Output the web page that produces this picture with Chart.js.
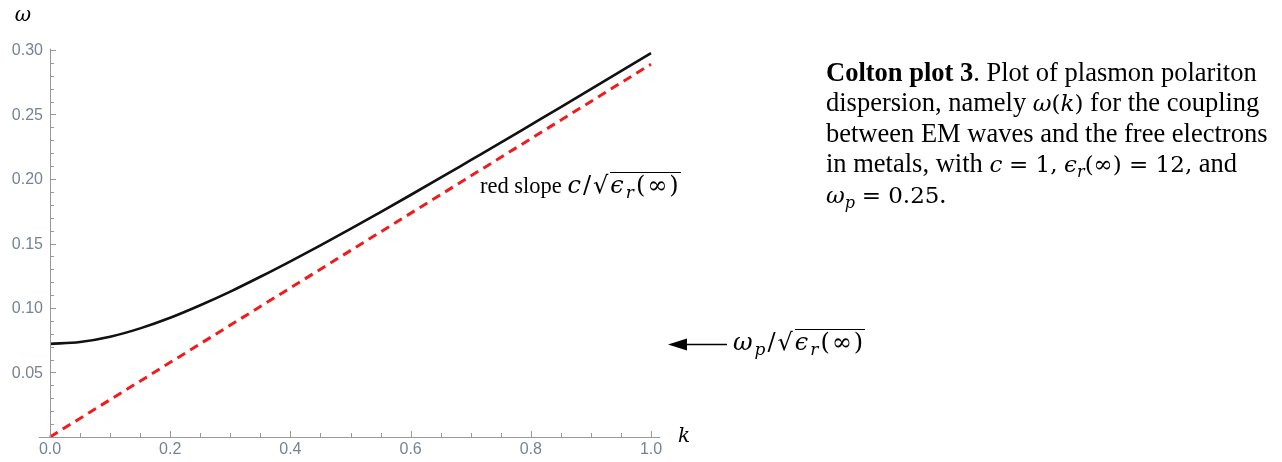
<!DOCTYPE html>
<html>
<head>
<meta charset="utf-8">
<script src="https://cdn.jsdelivr.net/npm/chart.js@4/dist/chart.umd.min.js"></script>
<style>
  html, body { margin: 0; padding: 0; background: #fff; }
  #wrap { position: relative; width: 1282px; height: 462px; }
  #myChart { position: absolute; left: 0; top: 0; }
  .txt { position: absolute; font-family: "Liberation Serif", "Times New Roman", serif; color: #000; white-space: nowrap; }
  .m { font-family: "DejaVu Serif", "Liberation Serif", serif; font-style: italic; }
  .n { font-family: "DejaVu Serif", "Liberation Serif", serif; }
  .ov { border-top: 1.5px solid #000; padding-top: 0px; }
  .wide { letter-spacing: 2px; }
  sub { vertical-align: -0.3em; line-height: 0; }
  #caption { left: 826px; top: 57px; font-size: 26.5px; line-height: 30px; }
</style>
</head>
<body>
<div id="wrap">
  <canvas id="myChart" width="1282" height="462"></canvas>
  <div class="txt" style="left:480px; top:171px; font-size:22.5px;">red slope <span class="wide"><span class="m" style="font-size:24px">c</span><span class="n" style="font-size:24px">/√</span><span class="ov"><span class="m" style="font-size:24px">ϵ<sub style="font-size:17px">r</sub></span><span class="n" style="font-size:24px">(∞)</span></span></span></div>
  <div class="txt wide" style="left:733px; top:328px; font-size:22px;"><span class="m" style="font-size:24px">ω<sub style="font-size:17px">p</sub></span><span class="n" style="font-size:24px">/√</span><span class="ov"><span class="m" style="font-size:24px">ϵ<sub style="font-size:17px">r</sub></span><span class="n" style="font-size:24px">(∞)</span></span></div>
  <div class="txt" id="caption"><b>Colton plot 3</b>. Plot of plasmon polariton<br>dispersion, namely <span class="m" style="font-size:23px">ω</span><span class="n" style="font-size:23px">(</span><span class="m" style="font-size:23px">k</span><span class="n" style="font-size:23px">)</span> for the coupling<br>between EM waves and the free electrons<br>in metals, with <span class="m" style="font-size:23px">c</span> <span class="n" style="font-size:23px">= 1,</span> <span class="m" style="font-size:23px">ϵ<sub style="font-size:16px">r</sub></span><span class="n" style="font-size:23px">(∞) = 12,</span> and<br><span class="m" style="font-size:23px">ω<sub style="font-size:16px">p</sub></span> <span class="n" style="font-size:23px">= 0.25</span>.</div>
</div>
<script>
// values
const kValues = [0, 0.05, 0.1, 0.15, 0.2, 0.25, 0.3, 0.35, 0.4, 0.45, 0.5, 0.55, 0.6, 0.65, 0.7, 0.75, 0.8, 0.85, 0.9, 0.95, 1.0];
const omegaValues = [0.0722, 0.0736, 0.0777, 0.0842, 0.0924, 0.1021, 0.1127, 0.1242, 0.1362, 0.1486, 0.1614, 0.1744, 0.1876, 0.2010, 0.2146, 0.2282, 0.2420, 0.2558, 0.2697, 0.2836, 0.2975];
const redK = [0, 1.0];
const redOmega = [0, 0.289];
const xTicks = [0, 0.2, 0.4, 0.6, 0.8, 1.0];
const xTickLabels = ['0.0', '0.2', '0.4', '0.6', '0.8', '1.0'];
const yTicks = [0.05, 0.10, 0.15, 0.20, 0.25, 0.30];
const yTickLabels = ['0.05', '0.10', '0.15', '0.20', '0.25', '0.30'];
const arrowLevel = 0.0722;

const axesPlugin = {
    id: 'mmaAxes',
    afterDraw(chart) {
        const c = chart.ctx;
        const x = chart.scales.x, y = chart.scales.y;
        const x0 = x.getPixelForValue(0), y0 = y.getPixelForValue(0);
        c.save();
        c.strokeStyle = '#999';
        c.lineWidth = 1;
        // axis lines
        c.beginPath();
        c.moveTo(x0 - 11, y0 + 0.5); c.lineTo(x.getPixelForValue(1.0) + 9, y0 + 0.5);
        c.moveTo(x0 + 0.5, y0); c.lineTo(x0 + 0.5, y.getPixelForValue(0.301));
        c.stroke();
        // x ticks
        c.beginPath();
        for (let i = 0; i <= 20; i++) {
            const px = Math.round(x.getPixelForValue(i * 0.05)) + 0.5;
            const len = i % 4 === 0 ? 6 : 4;
            c.moveTo(px, y0); c.lineTo(px, y0 - len);
        }
        // y ticks
        for (let i = 1; i <= 30; i++) {
            const py = Math.round(y.getPixelForValue(i * 0.01)) + 0.5;
            const len = i % 5 === 0 ? 6 : 4;
            c.moveTo(x0, py); c.lineTo(x0 + len, py);
        }
        c.stroke();
        // tick labels
        c.fillStyle = '#778295';
        c.font = '16px "Liberation Sans", Arial, sans-serif';
        c.textAlign = 'center'; c.textBaseline = 'top';
        xTicks.forEach((v, i) => c.fillText(xTickLabels[i], x.getPixelForValue(v), y0 + 5));
        c.textAlign = 'right'; c.textBaseline = 'middle';
        yTicks.forEach((v, i) => c.fillText(yTickLabels[i], x0 - 7, y.getPixelForValue(v) + 1));
        // axis titles
        c.fillStyle = '#000';
        c.font = 'italic 20px "DejaVu Serif", serif';
        c.textAlign = 'center';
        c.fillText('ω', 23, 16);
        c.fillText('k', x.getPixelForValue(1.0) + 33, y0);
        // arrow to omega_p / sqrt(eps)
        const ay = Math.round(y.getPixelForValue(arrowLevel)) + 0.5;
        c.strokeStyle = '#000';
        c.lineWidth = 1.3;
        c.beginPath(); c.moveTo(684, ay); c.lineTo(727, ay); c.stroke();
        c.beginPath(); c.moveTo(668, ay); c.lineTo(687, ay - 6); c.lineTo(687, ay + 6); c.closePath(); c.fill();
        c.restore();
    }
};

const ctx = document.getElementById('myChart').getContext('2d');
const myChart = new Chart(ctx, {
    type: 'scatter',
    data: {
        datasets: [
            {
                label: 'omega',
                data: kValues.map((k, i) => ({ x: k, y: omegaValues[i] })),
                showLine: true,
                borderColor: '#111',
                borderWidth: 2.6,
                pointRadius: 0,
                cubicInterpolationMode: 'monotone'
            },
            {
                label: 'red slope',
                data: redK.map((k, i) => ({ x: k, y: redOmega[i] })),
                showLine: true,
                borderColor: '#f21a1a',
                borderWidth: 3,
                borderDash: [9, 6],
                pointRadius: 0
            }
        ]
    },
    options: {
        responsive: false,
        animation: false,
        clip: false,
        layout: { padding: { left: 50, right: 631, top: 50, bottom: 25 } },
        plugins: { legend: { display: false }, tooltip: { enabled: false } },
        scales: {
            x: { type: 'linear', min: 0, max: 1.0, display: false },
            y: { type: 'linear', min: 0, max: 0.30, display: false }
        }
    },
    plugins: [axesPlugin]
});
</script>
</body>
</html>
